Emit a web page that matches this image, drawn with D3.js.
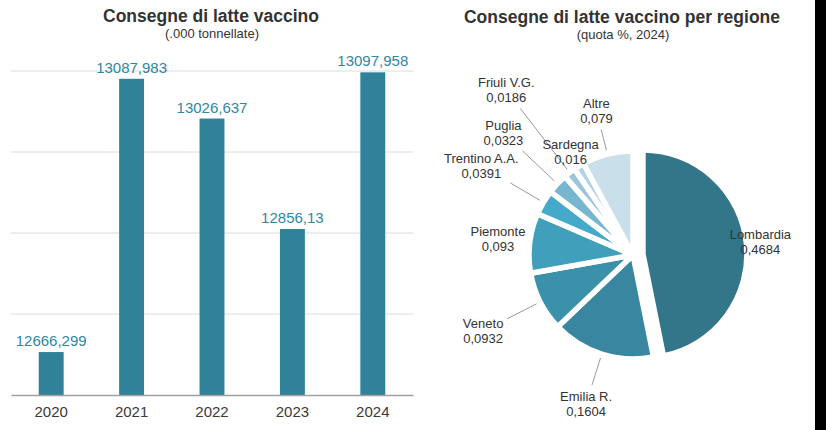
<!DOCTYPE html>
<html>
<head>
<meta charset="utf-8">
<script src="https://cdn.jsdelivr.net/npm/d3@7"></script>
<style>
  body { margin: 0; background: #fff; }
  svg { display: block; font-family: "Liberation Sans", Arial, Helvetica, sans-serif; }
</style>
</head>
<body>
<div id="chart"></div>
<script>
// Consegne di latte vaccino: bar chart by year + pie by region

const years = ["2020", "2021", "2022", "2023", "2024"];
const deliveries = [12666.299, 13087.983, 13026.637, 12856.13, 13097.958];
const gridValues = [12600, 12725, 12850, 12975, 13100];

const regions = ["Lombardia", "Emilia R.", "Veneto", "Piemonte", "Trentino A.A.", "Puglia", "Friuli V.G.", "Sardegna", "Altre"];
const shares = [0.4684, 0.1604, 0.0932, 0.093, 0.0391, 0.0323, 0.0186, 0.016, 0.079];

const regionColors = ["#33768a", "#3886a0", "#3c91aa", "#409fba", "#45aac9", "#78b6cf", "#9bc6da", "#b1d3e3", "#c9dfe9"];

// comma as decimal separator
const fmt = v => String(v).replace(".", ",");

const width = 826;
const height = 430;

const svg = d3.select("#chart")
    .append("svg")
    .attr("width", width)
    .attr("height", height);

// ---------- left: bars ----------
const x = d3.scaleBand()
    .domain(years)
    .range([11, 413])
    .paddingInner(0.69)
    .paddingOuter(0.345);

const y = d3.scaleLinear()
    .domain([12600, 13100])
    .range([395, 71]);

svg.append("g")
    .selectAll("line")
    .data(gridValues.slice(1))
    .enter()
    .append("line")
    .attr("x1", 11)
    .attr("x2", 413)
    .attr("y1", d => y(d))
    .attr("y2", d => y(d))
    .attr("stroke", "#dcdcdc")
    .attr("stroke-width", 1);

const barData = years.map((yr, i) => ({ yr, v: deliveries[i] }));

svg.append("g")
    .selectAll("rect")
    .data(barData)
    .enter()
    .append("rect")
    .attr("x", d => x(d.yr))
    .attr("y", d => y(d.v))
    .attr("width", x.bandwidth())
    .attr("height", d => y(gridValues[0]) - y(d.v))
    .attr("fill", "#2f829a");

svg.append("g")
    .selectAll("text")
    .data(barData)
    .enter()
    .append("text")
    .attr("x", d => x(d.yr) + x.bandwidth() / 2)
    .attr("y", d => y(d.v) - 6)
    .attr("text-anchor", "middle")
    .style("font-size", "15px")
    .style("fill", "#2f87a1")
    .text(d => fmt(d.v));

const xAxis = svg.append("g")
    .attr("transform", `translate(0, ${y(gridValues[0])})`)
    .call(d3.axisBottom(x).tickSize(0).tickPadding(11));

xAxis.select(".domain").attr("stroke", "#a0a0a0").attr("stroke-width", 1.5);
xAxis.selectAll("text")
    .style("font-size", "15px")
    .style("font-family", "Liberation Sans, Arial, sans-serif")
    .style("fill", "#3a3a3a");

svg.append("text")
    .attr("x", 211).attr("y", 22)
    .attr("text-anchor", "middle")
    .style("font-size", "17.5px")
    .style("font-weight", "bold")
    .style("fill", "#333")
    .text("Consegne di latte vaccino");

svg.append("text")
    .attr("x", 212).attr("y", 38)
    .attr("text-anchor", "middle")
    .style("font-size", "13px")
    .style("fill", "#333")
    .text("(.000 tonnellate)");

// ---------- right: pie ----------
const pieCx = 633, pieCy = 255, pieR = 104;
const explode = 10;   // Lombardia pulled out

// distance of each label from the centre (layout only)
const labelDist = [118, 156, 168, 136, 176, 178, 208, 120, 149];

const pieData = regions.map((r, i) => ({ region: r, share: shares[i], color: regionColors[i], ld: labelDist[i] }));

const pie = d3.pie().sort(null).value(d => d.share);
const arc = d3.arc().innerRadius(0).outerRadius(pieR);

const polar = (a, r) => [Math.sin(a) * r, -Math.cos(a) * r];

const pieG = svg.append("g")
    .attr("transform", `translate(${pieCx}, ${pieCy})`);

const arcs = pie(pieData);
arcs.forEach((d, i) => {
    d.mid = (d.startAngle + d.endAngle) / 2;
    d.shift = i === 0 ? polar(d.mid, explode) : [0, 0];
});

pieG.selectAll(".slice")
    .data(arcs)
    .enter()
    .append("path")
    .attr("class", "slice")
    .attr("transform", d => `translate(${d.shift})`)
    .attr("d", arc)
    .attr("fill", d => d.data.color)
    .attr("stroke", "#fff")
    .attr("stroke-width", 5.5)
    .attr("stroke-linejoin", "miter");

const lineG = pieG.append("g");
const labelG = pieG.append("g");

arcs.forEach(d => {
    const [lx, ly] = polar(d.mid, d.data.ld);
    const t = labelG.append("text")
        .attr("transform", `translate(${lx + d.shift[0]}, ${ly + d.shift[1]})`)
        .attr("text-anchor", "middle")
        .style("font-size", "13px")
        .style("fill", "#333");
    t.append("tspan").attr("x", 0).attr("y", -3).text(d.data.region);
    t.append("tspan").attr("x", 0).attr("y", 12).text(fmt(d.data.share));

    if (d.index === 0) return;
    // leader line stops short of the label box
    const bb = t.node().getBBox();
    const hw = bb.width / 2, hh = bb.height / 2;
    const s = Math.abs(Math.sin(d.mid)), c = Math.abs(Math.cos(d.mid));
    const gap = Math.min(s > 0.01 ? hw / s : 1e9, c > 0.01 ? hh / c : 1e9) + 4;
    const inner = pieR + 4;
    const outer = d.data.ld - gap;
    if (outer - inner > 4) {
        const p1 = polar(d.mid, inner), p2 = polar(d.mid, outer);
        lineG.append("line")
            .attr("x1", p1[0]).attr("y1", p1[1])
            .attr("x2", p2[0]).attr("y2", p2[1])
            .attr("stroke", "#9a9a9a")
            .attr("stroke-width", 1);
    }
});

svg.append("text")
    .attr("x", 622).attr("y", 23)
    .attr("text-anchor", "middle")
    .style("font-size", "17.5px")
    .style("font-weight", "bold")
    .style("fill", "#333")
    .text("Consegne di latte vaccino per regione");

svg.append("text")
    .attr("x", 623).attr("y", 39)
    .attr("text-anchor", "middle")
    .style("font-size", "13px")
    .style("fill", "#333")
    .text("(quota %, 2024)");

// dark strip on the right edge of the original picture
svg.append("rect")
    .attr("x", 815).attr("y", 0)
    .attr("width", width - 815).attr("height", height)
    .attr("fill", "#000");
</script>
</body>
</html>
